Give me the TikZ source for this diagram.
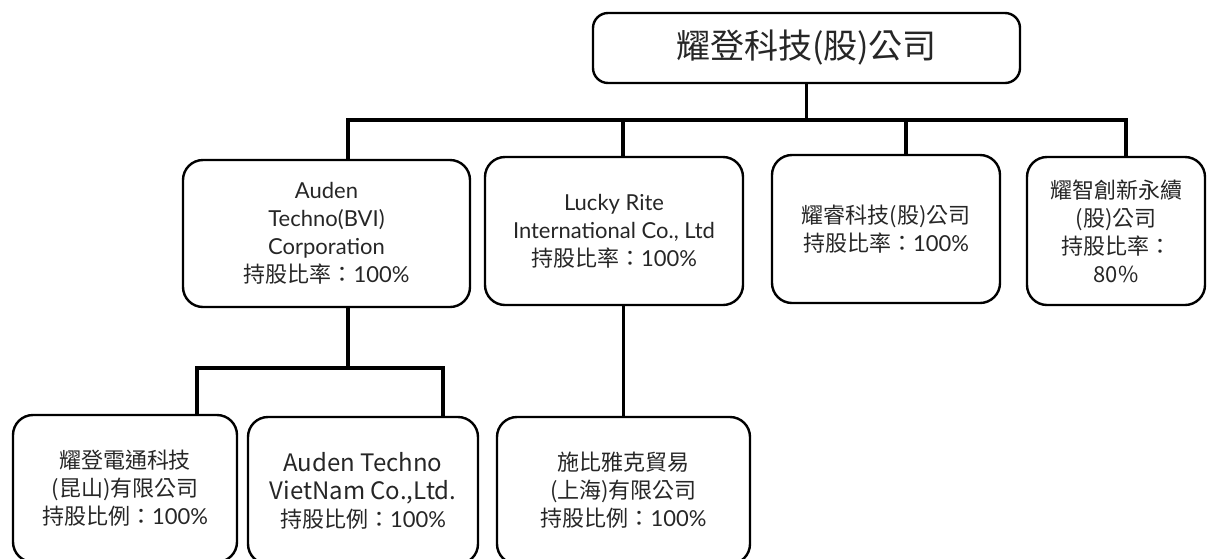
\documentclass[tikz,border=0pt]{standalone}
\usepackage{fontspec}
\setmainfont{Lato}
\newfontfamily\cjk{Noto Sans CJK TC}

\begin{document}
\begin{tikzpicture}[x=1pt,y=-1pt,
    box/.style={draw,line width=2.4pt,rounded corners=20pt,align=center,inner sep=0pt,
      font=\fontsize{22}{28}\selectfont,text=black!85},
    link/.style={line width=3.6pt}]
    \clip (0,0) rectangle (1208,558); %page is 1208 x 558

    %Shape: Rounded Rectangle (parent)
    \node [box,rounded corners=15pt,minimum width=427pt,minimum height=70pt,
      font=\fontsize{34}{40}\selectfont\cjk] (auden) at (806.5,48) {耀登科技(股)公司};

    %Shape: Rounded Rectangle (first row)
    \node [box,minimum width=287pt,minimum height=147pt] (bvi) at (326.5,233.5)
      {Auden\\Techno(BVI)\\Corporation\\{\cjk 持股比率：}100\%};
    \node [box,minimum width=258pt,minimum height=148pt] (lucky) at (614,231)
      {Lucky Rite\\International Co., Ltd\\{\cjk 持股比率：}100\%};
    \node [box,minimum width=228pt,minimum height=148pt] (yaorui) at (886,229)
      {{\cjk 耀睿科技(股)公司}\\{\cjk 持股比率：}100\%};
    \node [box,minimum width=178pt,minimum height=148pt,font=\fontsize{22}{28}\selectfont\cjk] (yaozhi) at (1116,231)
      {耀智創新永續\\(股)公司\\持股比率：\\80\%};

    %Shape: Rounded Rectangle (second row)
    \node [box,minimum width=224pt,minimum height=147pt] (kunshan) at (125,488.5)
      {{\cjk 耀登電通科技}\\{\cjk (昆山)有限公司}\\{\cjk 持股比例：}100\%};
    \node [box,minimum width=230pt,minimum height=147pt] (vietnam) at (363,490.5)
      {{\cjk\fontsize{24}{28}\selectfont Auden Techno}\\{\cjk\fontsize{24}{28}\selectfont VietNam Co.,Ltd.}\\{\cjk 持股比例：}100\%};
    \node [box,minimum width=253pt,minimum height=147pt] (shanghai) at (623.5,490.5)
      {{\cjk 施比雅克貿易}\\{\cjk (上海)有限公司}\\{\cjk 持股比例：}100\%};

    %Straight Lines (upper bus)
    \coordinate (jb) at (348,120);
    \coordinate (jl) at (623,120);
    \coordinate (jr) at (906,120);
    \coordinate (jz) at (1126,120);
    \draw [link] (auden.south) -- (auden.south |- jb);
    \draw [link] (bvi.north -| jb) -- (jb) -- (jz) -- (yaozhi.north -| jz);
    \draw [link] (jl) -- (lucky.north -| jl);
    \draw [link] (jr) -- (yaorui.north -| jr);

    %Straight Lines (lower bus)
    \coordinate (kk) at (197,368);
    \coordinate (kv) at (443,368);
    \draw [link] (bvi.south -| jb) -- (jb |- kk);
    \draw [link] (kunshan.north -| kk) -- (kk) -- (kv) -- (vietnam.north -| kv);
    \draw [link] (shanghai.north) -- (shanghai.north |- lucky.south);

\end{tikzpicture}
\end{document}
